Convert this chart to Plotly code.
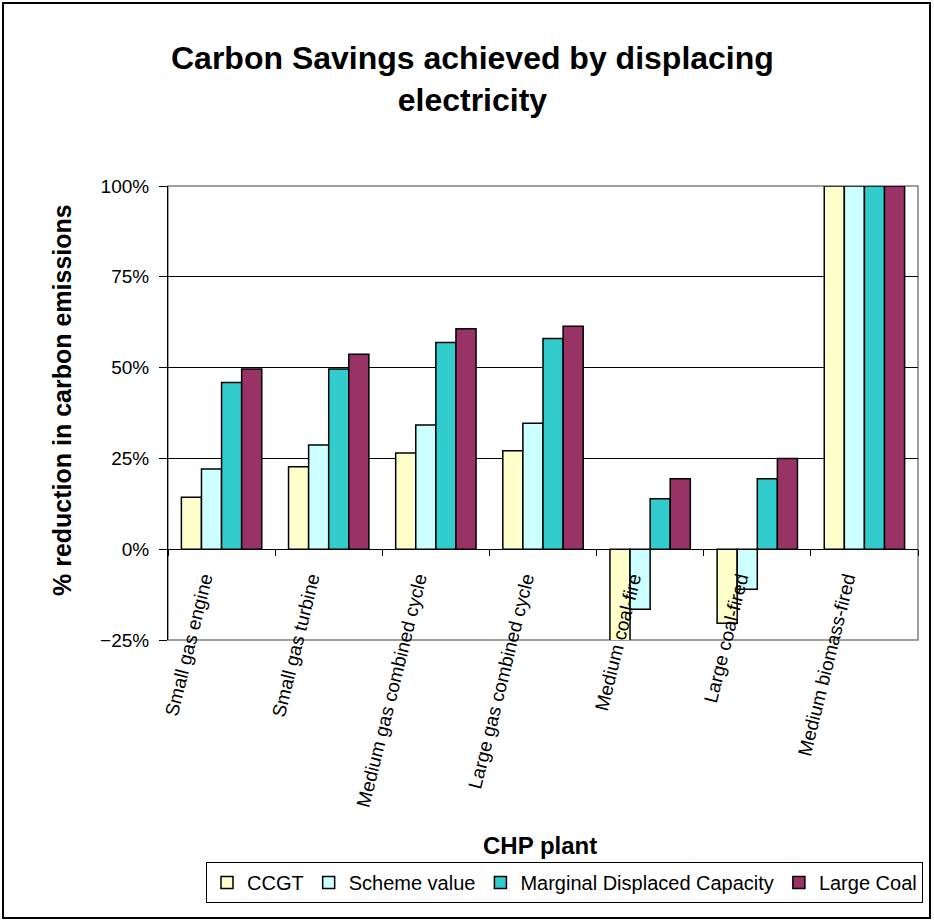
import plotly.graph_objects as go

categories = ["Small gas engine", "Small gas turbine", "Medium gas combined cycle",
              "Large gas combined cycle", "Medium coal-fire", "Large coal-fired",
              "Medium biomass-fired"]
series_names = ["CCGT", "Scheme value", "Marginal Displaced Capacity", "Large Coal"]
ccgt = [0.143, 0.227, 0.265, 0.271, -0.254, -0.204, 1.0]
scheme_value = [0.221, 0.287, 0.342, 0.347, -0.165, -0.110, 1.0]
marginal_displaced = [0.459, 0.496, 0.569, 0.580, 0.139, 0.194, 1.0]
large_coal = [0.496, 0.537, 0.607, 0.614, 0.194, 0.250, 1.0]
colors = ["#FFFFCC", "#CCFFFF", "#33CCCC", "#993366"]
y_ticks = [-0.25, 0, 0.25, 0.5, 0.75, 1.0]

FONT = "Liberation Sans, Arial, sans-serif"
W, H = 934, 922
L, R, T, B = 168, 16, 186, 282
PW, PH = W - L - R, H - T - B


def px_x(x):
    return (x - L) / PW


def px_y(y):
    return (H - B - y) / PH


fig = go.Figure()
for name, vals, col in zip(series_names,
                           [ccgt, scheme_value, marginal_displaced, large_coal],
                           colors):
    fig.add_trace(go.Bar(x=categories, y=vals, name=name,
                         marker=dict(color=col, line=dict(color="black", width=1.5))))

fig.update_layout(
    width=W, height=H,
    margin=dict(l=L, r=R, t=T, b=B, autoexpand=False),
    paper_bgcolor="white", plot_bgcolor="white",
    barmode="group", bargap=0.25, bargroupgap=0,
    font=dict(family=FONT, color="black"),
    showlegend=True,
    legend=dict(orientation="h", x=px_x(206), y=px_y(862), xanchor="left", yanchor="top",
                bordercolor="black", borderwidth=1, font=dict(size=20, family=FONT),
                itemwidth=30, tracegroupgap=0),
    xaxis=dict(type="category", anchor="free", position=0.2,
               showline=True, linecolor="black", linewidth=1,
               ticks="outside", tickson="boundaries", ticklen=6, tickcolor="black",
               tickangle=-76, tickfont=dict(size=19, family=FONT),
               ticklabelstandoff=10, ticklabelshift=-18, showgrid=False),
    yaxis=dict(range=[-0.25, 1.0], tickvals=y_ticks, tickformat=".0%",
               showline=True, linecolor="black", linewidth=1,
               ticks="outside", ticklen=8, tickcolor="black",
               tickfont=dict(size=19, family=FONT), ticklabelstandoff=6,
               showgrid=True, gridcolor="black", gridwidth=1, zeroline=False),
)

# plot-area border and outer chart border
fig.add_shape(type="rect", xref="paper", yref="paper", x0=0, x1=1, y0=0, y1=1,
              line=dict(color="#808080", width=1.5), layer="below")
fig.add_shape(type="rect", xref="paper", yref="paper",
              x0=px_x(3), x1=px_x(930), y0=px_y(918), y1=px_y(3),
              line=dict(color="black", width=2))

fig.add_annotation(text="<b>Carbon Savings achieved by displacing<br>electricity</b>",
                   xref="paper", yref="paper", x=px_x(472), y=px_y(79),
                   xanchor="center", yanchor="middle", showarrow=False,
                   font=dict(size=32, family=FONT))
fig.add_annotation(text="<b>% reduction in carbon emissions</b>", textangle=-90,
                   xref="paper", yref="paper", x=px_x(62), y=px_y(400),
                   xanchor="center", yanchor="middle", showarrow=False,
                   font=dict(size=25, family=FONT))
fig.add_annotation(text="<b>CHP plant</b>",
                   xref="paper", yref="paper", x=px_x(540), y=px_y(845),
                   xanchor="center", yanchor="middle", showarrow=False,
                   font=dict(size=24, family=FONT))

fig.write_html("out.html", post_script="document.body.style.margin='0px';",
               config={"displayModeBar": False})
